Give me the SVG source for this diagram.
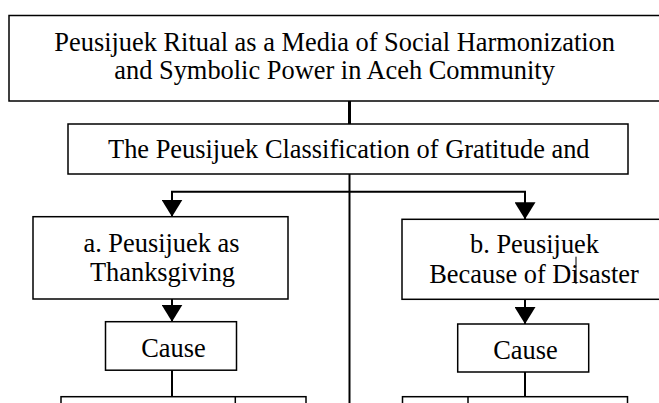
<svg xmlns="http://www.w3.org/2000/svg" width="659" height="403" viewBox="0 0 659 403">
<style>
.box{fill:#fff;stroke:#000;stroke-width:1.5}
.t{font-family:"Liberation Serif","Times New Roman",serif;font-size:26.4px;fill:#000}
.c{text-anchor:middle}
.ln{fill:none;stroke:#000;stroke-width:2}
</style>
<defs>
<marker id="ah" viewBox="0 0 17 21" refX="17" refY="10.5" markerWidth="17" markerHeight="21" markerUnits="userSpaceOnUse" orient="auto">
<path d="M0,0 L17,10.5 L0,21 Z" fill="#000"/>
</marker>
</defs>
<rect width="659" height="403" fill="#fff"/>
<g id="connectors">
<line class="ln" x1="349.5" y1="101" x2="349.5" y2="124" style="stroke-width:3"/>
<line class="ln" x1="349.5" y1="174" x2="349.5" y2="403"/>
<polyline class="ln" points="172,216.7 172,191.7 525,191.7 525,219.3" style="marker-start:none"/>
<line class="ln" x1="172" y1="200" x2="172" y2="216.7" marker-end="url(#ah)"/>
<line class="ln" x1="525" y1="202" x2="525" y2="219.3" marker-end="url(#ah)"/>
<line class="ln" x1="172" y1="299" x2="172" y2="321.7" marker-end="url(#ah)"/>
<line class="ln" x1="525" y1="299.3" x2="525" y2="324" marker-end="url(#ah)"/>
<line class="ln" x1="172" y1="370" x2="172" y2="396.7"/>
<line class="ln" x1="525" y1="372" x2="525" y2="396.7"/>
</g>
<g id="top">
<rect class="box" x="9" y="15.5" width="660" height="85.5"/>
<text class="t" x="54.3" y="50.7">Peusijuek Ritual as a Media of Social Harmonization</text>
<text class="t" x="114.3" y="79.3">and Symbolic Power in Aceh Community</text>
</g>
<g id="classification">
<rect class="box" x="68" y="124" width="560" height="50"/>
<text class="t c" x="348.8" y="158.3">The Peusijuek Classification of Gratitude and</text>
</g>
<g id="thanksgiving">
<rect class="box" x="33" y="216.7" width="255" height="82.3"/>
<text class="t c" x="161.5" y="251.7">a. Peusijuek as</text>
<text class="t c" x="162.5" y="280.5">Thanksgiving</text>
</g>
<g id="disaster">
<rect class="box" x="402" y="219.3" width="270" height="80"/>
<text class="t c" x="534.5" y="253.3">b. Peusijuek</text>
<text class="t c" x="534" y="283.3">Because of Disaster</text>
<line x1="576" y1="256.7" x2="576" y2="284" stroke="#000" stroke-width="1"/>
</g>
<g id="cause-a">
<rect class="box" x="105.5" y="321.7" width="131" height="48.5"/>
<text class="t c" x="173.4" y="356.7">Cause</text>
</g>
<g id="cause-b">
<rect class="box" x="457.7" y="324" width="131" height="48"/>
<text class="t c" x="525.5" y="359">Cause</text>
</g>
<g id="row-a">
<rect class="box" x="61" y="396.7" width="245" height="20"/>
<line x1="235.3" y1="396.7" x2="235.3" y2="403" stroke="#000" stroke-width="1.5"/>
</g>
<g id="row-b">
<rect class="box" x="402.5" y="396.7" width="225" height="20"/>
<line x1="468" y1="396.7" x2="468" y2="403" stroke="#000" stroke-width="1.5"/>
</g>
</svg>
